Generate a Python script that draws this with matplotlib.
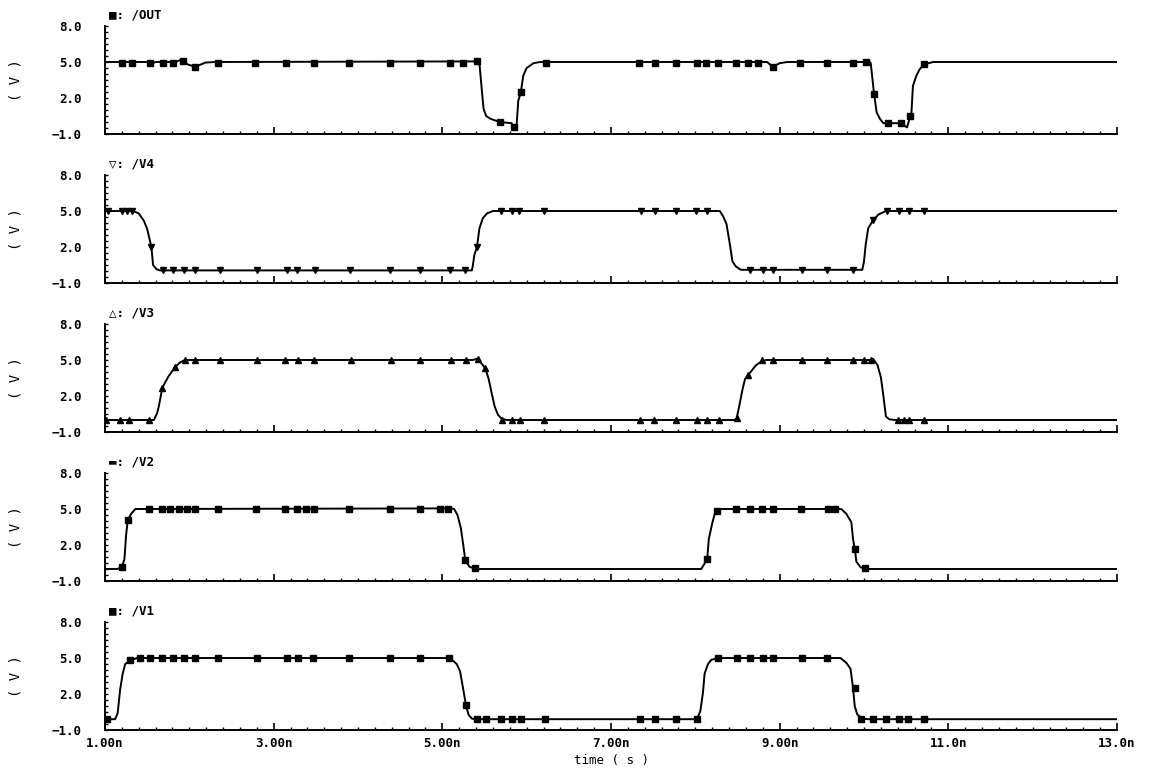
import matplotlib
matplotlib.use("Agg")
import matplotlib.pyplot as plt
from matplotlib.ticker import MultipleLocator
from matplotlib import rcParams

rcParams['font.family'] = ['DejaVu Sans Mono', 'DejaVu Sans']
rcParams['font.size'] = 9
rcParams['font.weight'] = 'bold'

# time in ns, voltage in V
# /OUT
t_out = [1.0, 1.50, 1.55, 1.60, 1.83, 1.91, 1.98, 2.07, 2.19, 2.30,
         5.41, 5.44, 5.47, 5.49, 5.52, 5.57, 5.68, 5.82, 5.85, 5.88,
         5.90, 5.93, 5.96, 6.00, 6.08, 6.16, 8.85, 8.92, 9.00, 9.09,
         10.07, 10.08, 10.12, 10.15, 10.19, 10.23, 10.44, 10.51, 10.54, 10.56,
         10.58, 10.62, 10.66, 10.71, 10.82, 13.0]
v_out = [5.0, 5.0, 4.85, 5.0, 5.0, 5.2, 4.8, 4.6, 4.95, 5.0,
         5.05, 4.9, 2.5, 1.06, 0.5, 0.27, 0.0, -0.1, -0.4, -0.4,
         1.76, 2.46, 3.87, 4.5, 4.9, 5.0, 5.0, 4.6, 4.9, 5.0,
         5.0, 4.9, 2.3, 0.8, 0.25, -0.1, -0.1, -0.45, 0.25, 0.46,
         3.0, 3.84, 4.4, 4.8, 5.0, 5.0]
mt_out = [1.20, 1.32, 1.53, 1.69, 1.81, 1.93, 2.07, 2.34, 2.78, 3.15,
          3.48, 3.89, 4.38, 4.74, 5.09, 5.25, 5.41, 5.68, 5.85, 5.93,
          6.23, 7.33, 7.52, 7.77, 8.02, 8.13, 8.27, 8.48, 8.62, 8.74,
          8.92, 9.24, 9.56, 9.87, 10.02, 10.12, 10.28, 10.44, 10.55, 10.71]
mv_out = [4.9, 4.9, 4.9, 4.9, 4.9, 5.1, 4.6, 4.9, 4.9, 4.9,
          4.9, 4.9, 4.9, 4.9, 4.9, 4.9, 5.1, 0.0, -0.4, 2.46,
          4.9, 4.9, 4.9, 4.9, 4.9, 4.9, 4.9, 4.9, 4.9, 4.9,
          4.6, 4.9, 4.9, 4.9, 5.0, 2.3, -0.1, -0.1, 0.46, 4.8]

# /V4
t_v4 = [1.0, 1.33, 1.40, 1.46, 1.50, 1.55, 1.57, 1.61, 1.65, 5.35,
        5.36, 5.38, 5.41, 5.44, 5.48, 5.53, 5.60, 8.29, 8.33, 8.37,
        8.41, 8.44, 8.48, 8.54, 9.98, 10.00, 10.02, 10.05, 10.11, 10.17,
        10.26, 13.0]
v_v4 = [5.0, 5.0, 4.8, 4.2, 3.5, 2.0, 0.5, 0.15, 0.05, 0.05,
        0.38, 1.35, 1.96, 3.56, 4.4, 4.8, 5.0, 5.0, 4.55, 3.9,
        2.2, 0.8, 0.38, 0.1, 0.1, 0.8, 2.2, 3.56, 4.25, 4.7,
        5.0, 5.0]
mt_v4 = [1.04, 1.20, 1.26, 1.32, 1.55, 1.69, 1.81, 1.94, 2.07, 2.36,
         2.80, 3.16, 3.28, 3.49, 3.91, 4.38, 4.74, 5.09, 5.27, 5.41,
         5.70, 5.83, 5.91, 6.21, 7.36, 7.52, 7.77, 8.01, 8.14, 8.65,
         8.80, 8.92, 9.27, 9.56, 9.87, 10.11, 10.27, 10.42, 10.53, 10.71]
mv_v4 = [5.0, 5.0, 5.0, 5.0, 2.0, 0.05, 0.05, 0.05, 0.05, 0.05,
         0.05, 0.05, 0.05, 0.05, 0.05, 0.05, 0.05, 0.05, 0.05, 1.96,
         5.0, 5.0, 5.0, 5.0, 5.0, 5.0, 5.0, 5.0, 5.0, 0.1,
         0.1, 0.1, 0.1, 0.1, 0.1, 4.25, 5.0, 5.0, 5.0, 5.0]

# /V3
t_v3 = [1.0, 1.58, 1.62, 1.64, 1.68, 1.75, 1.79, 1.83, 1.89, 1.95,
        5.36, 5.41, 5.45, 5.51, 5.55, 5.58, 5.62, 5.66, 5.71, 5.77,
        8.46, 8.49, 8.52, 8.56, 8.59, 8.63, 8.67, 8.72, 8.78, 8.84,
        10.06, 10.11, 10.16, 10.20, 10.23, 10.26, 10.30, 10.37, 13.0]
v_v3 = [0.0, 0.0, 0.6, 1.2, 2.7, 3.6, 4.0, 4.4, 4.8, 5.0,
        5.0, 5.1, 4.85, 4.3, 3.4, 2.4, 1.14, 0.43, 0.06, 0.0,
        0.0, 0.14, 1.14, 2.57, 3.43, 3.77, 4.14, 4.57, 4.86, 5.0,
        5.0, 5.09, 4.57, 3.57, 2.0, 0.29, 0.06, 0.0, 0.0]
mt_v3 = [1.01, 1.18, 1.28, 1.52, 1.68, 1.83, 1.95, 2.07, 2.36, 2.80,
         3.14, 3.29, 3.48, 3.92, 4.39, 4.74, 5.10, 5.28, 5.42, 5.50,
         5.71, 5.83, 5.92, 6.21, 7.34, 7.51, 7.77, 8.02, 8.14, 8.28,
         8.49, 8.63, 8.79, 8.92, 9.27, 9.56, 9.87, 10.00, 10.08, 10.40,
         10.47, 10.53, 10.71]
mv_v3 = [0.0, 0.0, 0.0, 0.0, 2.7, 4.4, 5.0, 5.0, 5.0, 5.0,
         5.0, 5.0, 5.0, 5.0, 5.0, 5.0, 5.0, 5.0, 5.1, 4.3,
         0.0, 0.0, 0.0, 0.0, 0.0, 0.0, 0.0, 0.0, 0.0, 0.0,
         0.14, 3.77, 5.0, 5.0, 5.0, 5.0, 5.0, 5.0, 5.0, 0.0,
         0.0, 0.0, 0.0]

# /V2
t_v2 = [1.0, 1.15, 1.20, 1.23, 1.25, 1.27, 1.31, 1.36, 5.11, 5.14,
        5.18, 5.22, 5.26, 5.27, 5.32, 5.39, 8.07, 8.14, 8.16, 8.20,
        8.23, 8.26, 8.30, 9.73, 9.79, 9.85, 9.87, 9.89, 9.91, 9.96,
        10.03, 13.0]
v_v2 = [0.0, 0.0, 0.2, 0.8, 2.8, 4.07, 4.6, 5.0, 5.05, 5.0,
        4.5, 3.4, 1.4, 0.76, 0.2, 0.0, 0.0, 0.8, 2.5, 3.8,
        4.6, 4.85, 5.0, 5.0, 4.6, 3.9, 2.5, 1.7, 0.6, 0.14,
        0.0, 0.0]
mt_v2 = [1.20, 1.27, 1.52, 1.68, 1.77, 1.88, 1.97, 2.07, 2.34, 2.79,
         3.14, 3.28, 3.38, 3.48, 3.89, 4.38, 4.74, 4.97, 5.07, 5.27,
         5.39, 8.14, 8.26, 8.48, 8.65, 8.79, 8.92, 9.25, 9.57, 9.66,
         9.89, 10.01]
mv_v2 = [0.2, 4.07, 5.0, 5.0, 5.0, 5.0, 5.0, 5.0, 5.0, 5.0,
         5.0, 5.0, 5.0, 5.0, 5.0, 5.0, 5.0, 5.0, 5.0, 0.76,
         0.05, 0.8, 4.85, 5.0, 5.0, 5.0, 5.0, 5.0, 5.0, 5.0,
         1.7, 0.05]

# /V1
t_v1 = [1.0, 1.12, 1.15, 1.18, 1.21, 1.24, 1.30, 1.38, 5.09, 5.17,
        5.21, 5.24, 5.28, 5.31, 5.35, 5.40, 8.02, 8.06, 8.09, 8.11,
        8.15, 8.19, 8.27, 9.72, 9.79, 9.84, 9.87, 9.89, 9.92, 9.98,
        10.05, 13.0]
v_v1 = [-0.1, -0.1, 0.4, 2.4, 3.7, 4.5, 4.8, 5.0, 5.0, 4.5,
        3.9, 2.7, 1.1, 0.28, -0.05, -0.1, -0.1, 0.6, 2.1, 3.7,
        4.5, 4.85, 5.0, 5.0, 4.6, 4.1, 2.5, 1.0, 0.3, -0.05,
        -0.1, -0.1]
mt_v1 = [1.02, 1.30, 1.42, 1.53, 1.68, 1.81, 1.94, 2.07, 2.34, 2.80,
         3.16, 3.29, 3.47, 3.89, 4.38, 4.74, 5.08, 5.28, 5.41, 5.52,
         5.70, 5.83, 5.93, 6.22, 7.34, 7.52, 7.77, 8.02, 8.27, 8.49,
         8.65, 8.80, 8.92, 9.27, 9.56, 9.89, 9.97, 10.11, 10.26, 10.42,
         10.52, 10.71]
mv_v1 = [-0.1, 4.8, 5.0, 5.0, 5.0, 5.0, 5.0, 5.0, 5.0, 5.0,
         5.0, 5.0, 5.0, 5.0, 5.0, 5.0, 5.0, 1.1, -0.1, -0.1,
         -0.1, -0.1, -0.1, -0.1, -0.1, -0.1, -0.1, -0.1, 5.0, 5.0,
         5.0, 5.0, 5.0, 5.0, 5.0, 2.5, -0.1, -0.1, -0.1, -0.1,
         -0.1, -0.1]

names = ["/OUT", "/V4", "/V3", "/V2", "/V1"]
symbols = ["\u25a0", "\u25bd", "\u25b3", "\u25ac", "\u25a0"]
markers = ['s', 'v', '^', 's', 's']
traces = [(t_out, v_out, mt_out, mv_out),
          (t_v4, v_v4, mt_v4, mv_v4),
          (t_v3, v_v3, mt_v3, mv_v3),
          (t_v2, v_v2, mt_v2, mv_v2),
          (t_v1, v_v1, mt_v1, mv_v1)]

xticks = [1, 3, 5, 7, 9, 11, 13]
xticklabels = ["1.00n", "3.00n", "5.00n", "7.00n", "9.00n", "11.0n", "13.0n"]
yticks = [-1, 2, 5, 8]
yticklabels = ["\u22121.0", "2.0", "5.0", "8.0"]

W, H = 1175, 773
fig = plt.figure(figsize=(W / 100, H / 100), dpi=100)

for i, (name, sym, mk, tr) in enumerate(zip(names, symbols, markers, traces)):
    top = 26 + 149 * i
    ax = fig.add_axes([105 / W, 1 - (top + 108) / H, 1012 / W, 108 / H])
    t, v, mt, mv = tr
    ax.plot(t, v, color='black', lw=1.4)
    ax.plot(mt, mv, ls='none', marker=mk, ms=3.8, color='black')

    ax.set_xlim(1, 13)
    ax.set_ylim(-1, 8)
    for s in ['top', 'right']:
        ax.spines[s].set_visible(False)
    for s in ['left', 'bottom']:
        ax.spines[s].set_linewidth(1.4)

    ax.set_xticks(xticks)
    ax.xaxis.set_minor_locator(MultipleLocator(0.2))
    ax.set_yticks(yticks)
    ax.set_yticklabels(yticklabels)
    ax.yaxis.set_minor_locator(MultipleLocator(0.5))
    ax.tick_params(axis='x', which='major', direction='in', length=5, width=1.2, pad=5)
    ax.tick_params(axis='x', which='minor', direction='in', length=2.5, width=1.0)
    ax.tick_params(axis='y', which='both', direction='in', length=2.5, width=1.0, pad=17)

    if i == 4:
        ax.set_xticklabels(xticklabels)
        ax.set_xlabel("time ( s )", labelpad=3)
    else:
        ax.set_xticklabels([])

    ax.set_ylabel("( V )", fontsize=10)
    ax.yaxis.set_label_coords(-0.082, 0.5)
    ax.text(0.004, 1.04, sym + ": " + name, transform=ax.transAxes,
            ha='left', va='bottom')

fig.savefig("out.png", dpi=100)
